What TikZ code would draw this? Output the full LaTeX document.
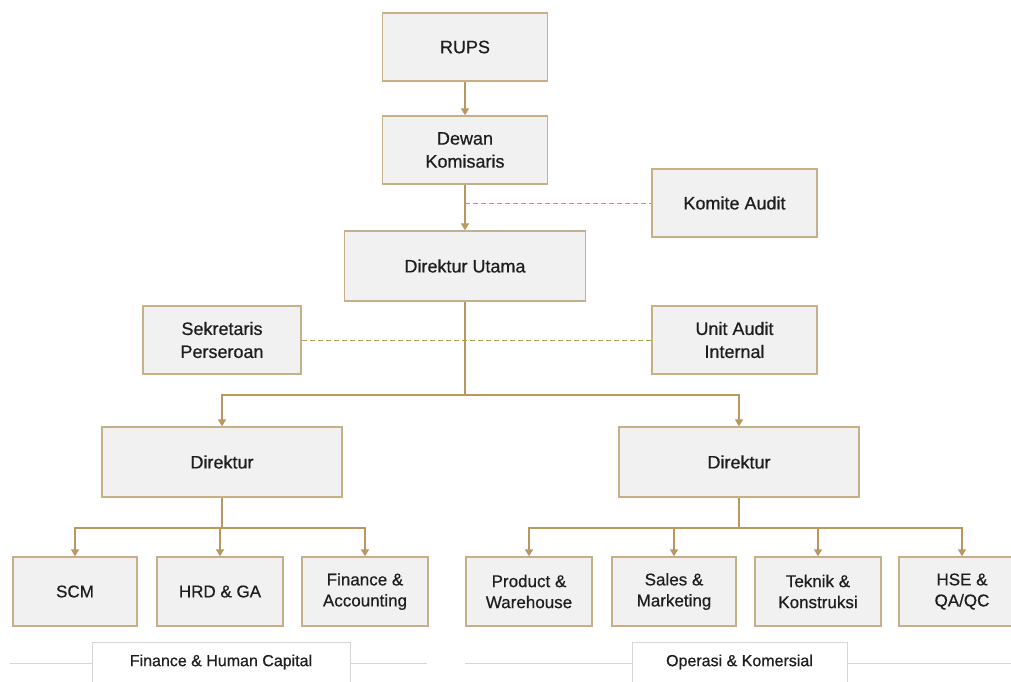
\documentclass[tikz,border=0pt]{standalone}
\usepackage{fontspec}
\setmainfont{Liberation Sans}
\newfontfamily\orgfont{Liberation Sans}[FakeBold=0.6]
\usetikzlibrary{arrows.meta}
\definecolor{boxfill}{HTML}{F2F1F1}
\definecolor{boxline}{HTML}{C6B08A}
\definecolor{connc}{HTML}{B9975F}
\definecolor{txt}{HTML}{1E1E1E}
\definecolor{capline}{HTML}{D6D6D6}
\begin{document}
\begin{tikzpicture}[x=1pt,y=-1pt,
  orgbox/.style={draw=boxline, line width=1.4pt, fill=boxfill, text=txt,
    align=center, inner sep=2pt, font=\orgfont\fontsize{18}{23}\selectfont},
  lowbox/.style={orgbox, minimum width=126pt, minimum height=69pt,
    font=\orgfont\fontsize{17}{21}\selectfont},
  capbox/.style={draw=capline, line width=0.8pt, fill=white, text=txt,
    minimum height=40pt, font=\orgfont\fontsize{16}{19}\selectfont},
  link/.style={draw=connc, line width=1.6pt},
  arr/.style={link, -{Triangle[width=8pt,length=7pt]}},
  dashlink/.style={draw=connc, line width=1pt, dash pattern=on 5pt off 3pt},
  capl/.style={draw=capline, line width=0.9pt}]
\useasboundingbox[fill=white] (0,0) rectangle (1011,681);
\begin{scope}
\clip (0,0) rectangle (1011,681);
% top chain
\node[orgbox, minimum width=165pt, minimum height=68pt] (rups) at (465,47) {RUPS};
\node[orgbox, minimum width=165pt, minimum height=68pt] (dewan) at (465,150) {Dewan\\Komisaris};
\node[orgbox, minimum width=165pt, minimum height=68pt] (komite) at (734.5,203) {Komite Audit};
\node[orgbox, minimum width=241pt, minimum height=70pt] (dirut) at (465,266) {Direktur Utama};
\node[orgbox, minimum width=158pt, minimum height=68pt] (sekr) at (222,340) {Sekretaris\\Perseroan};
\node[orgbox, minimum width=165pt, minimum height=68pt] (unit) at (734.5,340) {Unit Audit\\Internal};
\node[orgbox, minimum width=240pt, minimum height=70pt] (dirL) at (222,462) {Direktur};
\node[orgbox, minimum width=240pt, minimum height=70pt] (dirR) at (739,462) {Direktur};
% bottom row
\node[lowbox, minimum width=124pt] (scm) at (75,591.5) {SCM};
\node[lowbox] (hrd) at (220,591.5) {HRD \& GA};
\node[lowbox] (fin) at (365,591.5) {Finance \&\\Accounting};
\node[lowbox] (prod) at (529,591.5) {Product \&\\Warehouse};
\node[lowbox, minimum width=124pt] (sales) at (674,591.5) {Sales \&\\Marketing};
\node[lowbox] (tek) at (818,591.5) {Teknik \&\\Konstruksi};
\node[lowbox] (hse) at (962,591.5) {HSE \&\\QA/QC};
% junctions
\coordinate (j0) at (465,395);
\coordinate (jL) at (222,528);
\coordinate (jR) at (739,528);
% connectors
\draw[arr] (rups) -- (dewan);
\draw[arr] (dewan) -- (dirut);
\draw[dashlink] (dewan.south |- komite.west) -- (komite.west);
\draw[link] (dirut.south) -- (j0);
\draw[dashlink] (sekr.east) -- (unit.west);
\draw[arr] (j0) -| (dirL.north);
\draw[arr] (j0) -| (dirR.north);
\draw[link] (dirL.south) -- (jL);
\draw[link] (dirR.south) -- (jR);
\draw[arr] (jL) -| (scm.north);
\draw[arr] (hrd.north |- jL) -- (hrd.north);
\draw[arr] (jL) -| (fin.north);
\draw[arr] (jR) -| (prod.north);
\draw[arr] (jR) -| (sales.north);
\draw[arr] (jR) -| (tek.north);
\draw[arr] (jR) -| (hse.north);
% captions
\node[capbox, minimum width=258pt] (capL) at (221,662) {Finance \& Human Capital};
\node[capbox, minimum width=215pt] (capR) at (739.5,662) {Operasi \& Komersial};
\coordinate (cl1) at (10,663);
\coordinate (cl2) at (427,663);
\coordinate (cr1) at (465,663);
\coordinate (cr2) at (1011,663);
\draw[capl] (cl1) -- (capL.west |- cl1);
\draw[capl] (capL.east |- cl2) -- (cl2);
\draw[capl] (cr1) -- (capR.west |- cr1);
\draw[capl] (capR.east |- cr2) -- (cr2);
\end{scope}
\end{tikzpicture}
\end{document}
